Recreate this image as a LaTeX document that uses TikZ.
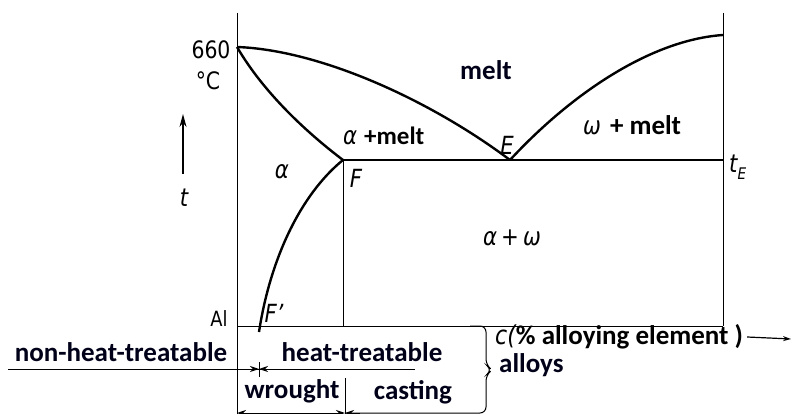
\documentclass[tikz,border=0pt]{standalone}
\usepackage{fontspec}
\setmainfont{Carlito}
\newfontfamily\dv[FakeStretch=0.85]{DejaVu Sans}
\usetikzlibrary{arrows.meta}
\begin{document}
\begin{tikzpicture}[x=1pt,y=-1pt,
  thinline/.style={line width=1pt},
  phase/.style={line width=2.4pt},
  lbl/.style={font=\fontsize{27}{27}\selectfont\bfseries, inner sep=0pt, text=black!90!blue},
  sym/.style={font=\dv\itshape\fontsize{25}{25}\selectfont, inner sep=0pt},
  num/.style={font=\dv\fontsize{24}{24}\selectfont, inner sep=0pt},
  tip/.style={-{Stealth[length=9pt,width=6pt]}}
]
\useasboundingbox (0,0) rectangle (792,414);

% coordinates
\coordinate (LT) at (237,13);
\coordinate (LB) at (237,414);
\coordinate (RT) at (723,13);
\coordinate (RB) at (723,326);
\coordinate (O)  at (237,326);
\coordinate (A)  at (237,47);
\coordinate (E)  at (510,160);
\coordinate (F)  at (343,160);
\coordinate (FB) at (343,326);
\coordinate (TE) at (723,160);
\coordinate (R)  at (723,35);
\coordinate (Fp) at (259,332);

% axes and frame
\draw[thinline] (LT) -- (LB);
\draw[thinline] (RT) -- (RB);
\draw[thinline] (O) -- (RB);
\draw[thinline] (F) -- (FB);

% phase boundaries
\draw[phase] (A) .. controls (320,50) and (430,100) .. (E);
\draw[phase] (E) .. controls (570,95) and (650,40) .. (R);
\draw[phase] (A) .. controls (265,95) and (310,135) .. (F);
\draw[phase] (F) .. controls (300,195) and (270,260) .. (Fp);
\draw[phase] (F) -- (E) -- (TE);

% temperature axis arrow
\coordinate (tb) at (183,174);
\coordinate (tt) at (183,114);
\draw[line width=1.3pt, -{Stealth[length=13pt,width=7pt]}] (tb) -- (tt);

% labels in diagram
\node[num] (n660) at (211,50) {660};
\node[num] (degC) at (208,81) {°C};
\node[sym] (tlab) at (184,198) {t};
\node[sym] (alpha) at (282,172) {α};
\node[anchor=west, inner sep=0pt] (amelt) at (343,136) {{\dv\itshape\fontsize{25}{25}\selectfont α}\hspace{7pt}{\fontsize{25}{25}\selectfont\bfseries +melt}};
\node[lbl] (melt) at (486,70) {melt};
\node[sym] (Elab) at (507,145) {E};
\node[anchor=west, inner sep=0pt] (wmelt) at (583,125) {{\dv\itshape\fontsize{25}{25}\selectfont ω}\hspace{9pt}{\fontsize{27}{27}\selectfont\bfseries + melt}};
\node[sym, anchor=west] (tE) at (729,167) {t\raisebox{-7pt}{\fontsize{16}{16}\selectfont E}};
\node[sym] (Flab) at (356,178) {F};
\node[sym] (aw) at (512,238) {α\,+\,ω};
\node[num, font=\dv\fontsize{21}{21}\selectfont] (Al) at (219,319) {Al};
\node[sym] (Fplab) at (274,313) {F’};

% lower part
\coordinate (hl) at (8,369);
\coordinate (hr) at (415,369);
\draw[thinline] (hl) -- (hr);
\coordinate (m1) at (237,369);
\coordinate (m0) at (259,369);
\coordinate (m2) at (279,369);
\draw[thinline, tip] (m1) -- (m0);
\draw[thinline, tip] (m2) -- (m0);
\coordinate (k1) at (259,362);
\coordinate (k2) at (259,377);
\draw[thinline] (k1) -- (k2);

\coordinate (v1) at (345,378);
\coordinate (v2) at (345,414);
\draw[thinline] (v1) -- (v2);

\coordinate (b0) at (237,413);
\coordinate (b1) at (345,413);
\draw[thinline, {Stealth[length=9pt,width=6pt]}-{Stealth[length=9pt,width=6pt]}] (b0) -- (b1);
\draw[thinline, rounded corners=6pt] (470,326) -- (486,326) -- (486,365) -- (492,370) -- (486,375) -- (486,413) -- (b1);
\draw[thinline, tip] (360,413) -- (b1);

\node[lbl] (nht) at (121,352) {non-heat-treatable};
\node[lbl] (ht) at (362,352) {heat-treatable};
\node[lbl] (wr) at (292,391) {wrought};
\node[lbl] (cast) at (413,392) {casting};
\node[anchor=west, inner sep=0pt] (cax) at (495,337) {{\dv\itshape\fontsize{26}{26}\selectfont c(}{\fontsize{27}{27}\selectfont\bfseries\% alloying element )}};
\node[lbl, anchor=west] (alloys) at (499,365) {alloys};
\coordinate (ae) at (791,339);
\draw[line width=1.2pt, -{Stealth[length=8pt,width=5pt]}] ([xshift=4pt]cax.east) -- (ae);
\end{tikzpicture}
\end{document}
